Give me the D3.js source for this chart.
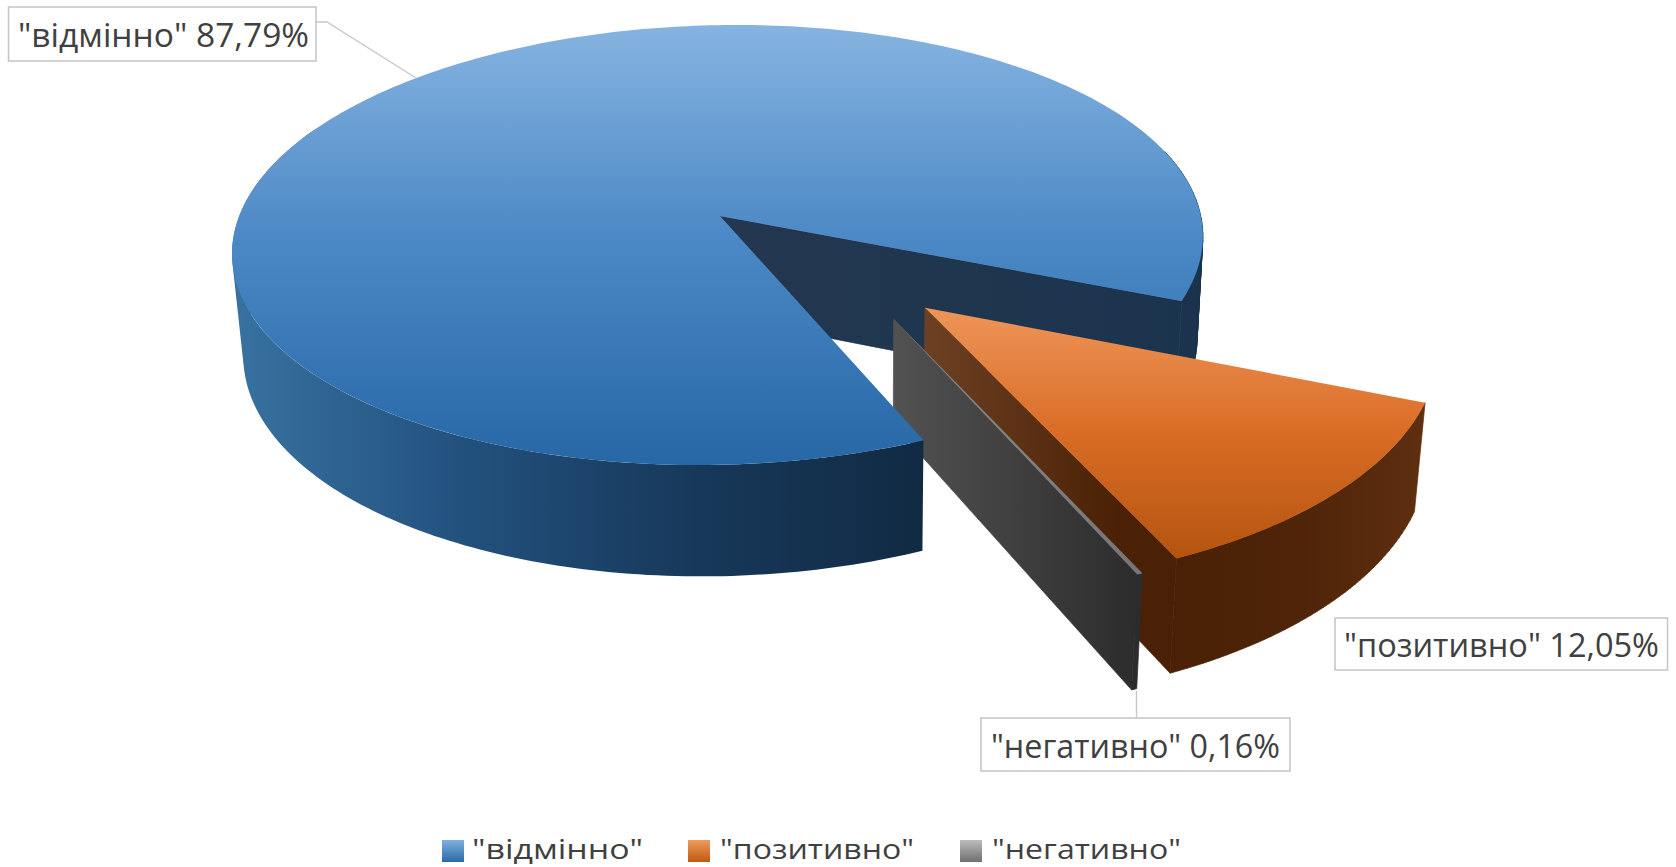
<!DOCTYPE html>
<html><head><meta charset="utf-8">
<style>html,body{margin:0;padding:0;background:#fff}svg{display:block}text{font-family:"Open Sans","Noto Sans",sans-serif;fill:#404040}</style>
<script src="https://cdn.jsdelivr.net/npm/d3@7"></script>
</head><body><svg id="c" width="1676" height="867"></svg>
<script>
const categories = ['"відмінно"', '"позитивно"', '"негативно"'];
const values = [87.79, 12.05, 0.16];
const palette = [
  {top:['#86b4e1','#4a87c5','#2767a6'], wall:['#37719f','#22507d','#17385a','#112a43']},
  {top:['#ee9559','#d96c25','#b45410'], wall:['#4a2106','#4f2408','#5f2f10'], cut:['#6e4022','#4a2106']},
  {top:['#8c8c8c','#828282','#757575'], wall:['#2c2c2c','#2c2c2c'], cut:['#525252','#2b2b2b']}
];
const explode = [[0,0],[0.4197,0.4016],[0.3576,0.4483]];

const k=0.1318, shear=19, depthC=0.0175, vpX=870, vpY=6100;
const xS=d3.scaleLinear().domain([-1,1]).range([720-480.8,720+480.8]);
const yS=d3.scaleLinear().domain([-1,1]).range([216-216.2,216+216.2]);
const svg=d3.select('#c');
const defs=svg.append('defs');
const deg=Math.PI/180;
const startDeg=155.9;
const slices=d3.pie().sort(null).value(d=>d).startAngle(startDeg*deg).endAngle((startDeg+360)*deg)(values);
function proj(u,v,z){
  const w=1-k*v, V=v/w;
  let x=xS(u/w)-shear*V, y=yS(V);
  if(z){ const q=depthC/(w+depthC); x+=q*(vpX-x); y+=q*(vpY-y); }
  return [x,y];
}
const pt=(i,th,r,z)=>proj(explode[i][0]+r*Math.cos(th),explode[i][1]+r*Math.sin(th),z);
const line=d3.line();
const arcT=(a0,a1)=>{const n=Math.max(2,Math.ceil(Math.abs(a1-a0)/deg));return d3.range(n+1).map(j=>a0+(a1-a0)*j/n);};
function grad(id,x1,y1,x2,y2,cols){
  const g=defs.append('linearGradient').attr('id',id).attr('gradientUnits','userSpaceOnUse')
    .attr('x1',x1).attr('y1',y1).attr('x2',x2).attr('y2',y2);
  cols.forEach((c,j)=>g.append('stop').attr('offset',j/(cols.length-1)).attr('stop-color',c));
  return `url(#${id})`;
}
const theta=slices.map(s=>[s.startAngle-Math.PI/2,s.endAngle-Math.PI/2]);
function topPath(i){
  const [a,b]=theta[i];
  return line([proj(explode[i][0],explode[i][1],0),...arcT(a,b).map(t=>pt(i,t,1,0))])+'Z';
}
// outer wall: the union of one quad per step, so the tangent silhouette is filled
function wallPath(i,a,b){
  const ts=arcT(a,b);
  return d3.pairs(ts).map(([p,q])=>{
    const cw=d3.polygonArea([pt(i,p,1,0),pt(i,q,1,0),pt(i,q,1,1),pt(i,p,1,1)])>=0;
    const quad=[pt(i,p,1,0),pt(i,q,1,0),pt(i,q,1,1),pt(i,p,1,1)];
    return line(cw?quad:quad.reverse())+'Z';
  }).join('');
}
function cutPath(i,t){
  return line([proj(explode[i][0],explode[i][1],0),pt(i,t,1,0),pt(i,t,1,1),proj(explode[i][0],explode[i][1],1)])+'Z';
}
const path=(d,f)=>svg.append('path').attr('d',d).attr('fill',f);
const solid=(d,f)=>path(d,f).attr('stroke',f).attr('stroke-width',0.7);

// blue: back walls
const [b0,b1]=theta[0];
solid(wallPath(0,b1-40*deg,b1),'#1b344e');
solid(cutPath(0,b1),grad('bc',720,0,1180,0,['#23374f','#1b344e']));
// orange
const [o0,o1]=theta[1];
solid(wallPath(1,o0,o1),grad('ow',1173,0,1427,0,palette[1].wall));
solid(cutPath(1,o1),grad('oc',925,0,1120,0,palette[1].cut));
path(topPath(1),grad('ot',0,308,0,560,palette[1].top));
// grey
const [g0,g1]=theta[2];
solid(wallPath(2,g0,g1),palette[2].wall[0]);
solid(cutPath(2,g1),grad('gc',893,0,1144,0,palette[2].cut));
path(topPath(2),grad('gt',0,319,0,575,palette[2].top));
// blue: front
path(wallPath(0,b0,205*deg),grad('bw',240,0,924,0,palette[0].wall));
path(topPath(0),grad('bt',0,25,0,465,palette[0].top));

// leaders
const leaders=[[[316,22],[327,22],[416,78]],[[1136.5,691],[1136.5,718]]];
svg.selectAll('.lead').data(leaders).join('path').attr('class','lead')
  .attr('d',d=>line(d)).attr('fill','none').attr('stroke','#c8c8c8').attr('stroke-width',1.4);

// labels
const fmt=v=>d3.format('.2f')(v).replace('.',',')+'%';
const labelBox=[[8.5,7,307.5,54],[1335,618,332.5,52],[981,718,309,53]];
const labelText=[[18,47,291],[1344,657,315],[991,758,289]];
labelBox.forEach((b,i)=>{
  svg.append('rect').attr('x',b[0]).attr('y',b[1]).attr('width',b[2]).attr('height',b[3])
    .attr('fill','#fff').attr('stroke','#c4c4c4').attr('stroke-width',1.5);
  const t=labelText[i];
  svg.append('text').attr('x',t[0]).attr('y',t[1]).attr('font-size',33)
    .attr('textLength',t[2]).attr('lengthAdjust','spacingAndGlyphs')
    .text(categories[i]+' '+fmt(values[i]));
});

// legend
const legendSw=[442,688,960], legendTx=[[472,171],[720,194],[992,189]];
const legendFill=[['#7fb0e0','#2a6aa8'],['#f09a5c','#c05a12'],['#bcbcbc','#6f6f6f']];
categories.forEach((c,i)=>{
  const g=defs.append('linearGradient').attr('id','lg'+i).attr('x1',0).attr('y1',0).attr('x2',0).attr('y2',1);
  g.append('stop').attr('offset',0).attr('stop-color',legendFill[i][0]);
  g.append('stop').attr('offset',1).attr('stop-color',legendFill[i][1]);
  svg.append('rect').attr('x',legendSw[i]).attr('y',840).attr('width',22).attr('height',22).attr('fill',`url(#lg${i})`);
  svg.append('text').attr('x',legendTx[i][0]).attr('y',859).attr('font-size',27)
    .attr('textLength',legendTx[i][1]).attr('lengthAdjust','spacingAndGlyphs').text(c);
});
</script></body></html>
